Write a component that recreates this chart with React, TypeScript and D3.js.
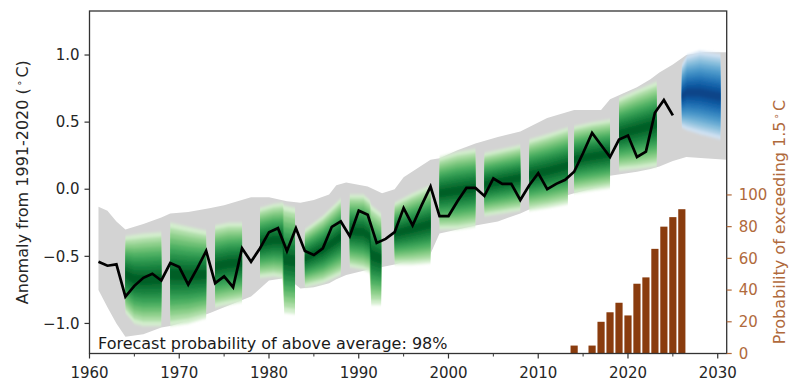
import * as d3 from "d3";

// observed annual global mean anomaly (°C, vs 1991-2020), one value per year from obsStart
const obsStart = 1961;
const obsAnomaly = [
  -0.54, -0.57, -0.56, -0.8, -0.72, -0.66, -0.63, -0.68, -0.55, -0.58,
  -0.71, -0.59, -0.46, -0.7, -0.65, -0.73, -0.44, -0.54, -0.44, -0.32,
  -0.29, -0.46, -0.29, -0.46, -0.49, -0.44, -0.28, -0.24, -0.35, -0.16,
  -0.19, -0.4, -0.37, -0.32, -0.14, -0.27, -0.12, 0.02, -0.2, -0.2,
  -0.09, 0.01, 0.01, -0.05, 0.08, 0.04, 0.04, -0.08, 0.03, 0.12,
  0.0, 0.04, 0.07, 0.13, 0.27, 0.42, 0.33, 0.24, 0.37, 0.4,
  0.24, 0.28, 0.57, 0.665, 0.55,
];

// grey envelope of the uninitialised simulations
const envYears = [
  1961, 1962, 1963, 1964, 1966, 1968, 1969, 1971, 1973.5, 1975,
  1978, 1980, 1982, 1983.5, 1985, 1986.7, 1987.5, 1988.6, 1991, 1992.6,
  1994, 1995, 1998, 1999, 2001, 2003, 2005.5, 2008, 2011, 2014,
  2017, 2018, 2021, 2022.5, 2023.5, 2025, 2026.5, 2028.5, 2031,
];
const envUpper = [
  -0.13, -0.16, -0.24, -0.3, -0.26, -0.21, -0.18, -0.17, -0.14, -0.12,
  -0.06, -0.06, -0.09, -0.1, -0.08, -0.04, 0.03, 0.05, 0.02, -0.03,
  0.0, 0.09, 0.22, 0.23, 0.29, 0.34, 0.39, 0.43, 0.53, 0.59,
  0.59, 0.67, 0.76, 0.82, 0.87, 0.93, 1.0, 1.02, 1.02,
];
const envLower = [
  -0.75, -0.88, -1.0, -1.1, -1.08, -1.03, -1.02, -0.98, -0.92, -0.88,
  -0.8, -0.68, -0.66, -0.74, -0.73, -0.7, -0.67, -0.64, -0.6, -0.58,
  -0.56, -0.54, -0.48, -0.33, -0.3, -0.27, -0.24, -0.18, -0.09, -0.03,
  0.02, 0.1, 0.13, 0.15, 0.17, 0.21, 0.24, 0.23, 0.22,
];

// retrospective forecasts (green), one entry per 5-year start
const hindcastYears = [
  [1964, 1965, 1966, 1968],
  [1969, 1971, 1973],
  [1974, 1975.5, 1977],
  [1979, 1980.5, 1981.5, 1981.7, 1982.9],
  [1984, 1986, 1988],
  [1989, 1990.5, 1991.2, 1991.4, 1992.5],
  [1994, 1996, 1998],
  [1999, 2001, 2003],
  [2004, 2006, 2008],
  [2009, 2011, 2013.3],
  [2014, 2016, 2018],
  [2019, 2021, 2023.2],
];
const hindcastTop = [
  [-0.35, -0.34, -0.33, -0.32],
  [-0.25, -0.28, -0.31],
  [-0.27, -0.25, -0.25],
  [-0.14, -0.11, -0.1, -0.12, -0.14],
  [-0.3, -0.2, -0.07],
  [-0.04, -0.04, -0.08, -0.12, -0.18],
  [-0.1, -0.03, 0.03],
  [0.24, 0.28, 0.3],
  [0.27, 0.3, 0.33],
  [0.37, 0.41, 0.46],
  [0.47, 0.5, 0.52],
  [0.68, 0.74, 0.8],
];
const hindcastBottom = [
  [-0.92, -1.0, -1.02, -1.02],
  [-1.02, -1.0, -0.96],
  [-0.88, -0.86, -0.84],
  [-0.66, -0.65, -0.66, -0.92, -0.93],
  [-0.73, -0.7, -0.64],
  [-0.58, -0.6, -0.62, -0.86, -0.86],
  [-0.56, -0.56, -0.55],
  [-0.3, -0.3, -0.28],
  [-0.2, -0.18, -0.16],
  [-0.16, -0.14, -0.11],
  [-0.03, -0.01, 0.01],
  [0.14, 0.15, 0.17],
];

// new forecast (blue)
const forecastYears = [2026, 2026.6, 2028, 2030.3];
const forecastTop = [0.93, 1.0, 1.03, 1.01];
const forecastBottom = [0.46, 0.44, 0.41, 0.37];

// probability (%) of a year exceeding 1.5 °C
const probYears = [2014, 2015, 2016, 2017, 2018, 2019, 2020, 2021, 2022, 2023, 2024, 2025, 2026];
const probExceed = [5, 0, 5, 20, 26, 32, 24, 44, 48, 66, 80, 86, 91];

const xTicks = [1960, 1970, 1980, 1990, 2000, 2010, 2020, 2030];
const xMinorTicks = [1965, 1975, 1985, 1995, 2005, 2015, 2025];
const yTicks = [-1.0, -0.5, 0.0, 0.5, 1.0];
const y2Ticks = [0, 20, 40, 60, 80, 100];

const W = 790;
const H = 384;
const plot = { left: 89.5, right: 726.7, top: 11, bottom: 353.5 };
const font = "DejaVu Sans, sans-serif";
const brown = "#b06a3c";
const axisColor = "#333";

const x = d3.scaleLinear().domain([1960, 2031]).range([plot.left, plot.right]);
const y = d3.scaleLinear().domain([-1.224, 1.328]).range([plot.bottom, plot.top]);
const y2 = d3.scaleLinear().domain([0, 216]).range([plot.bottom, plot.top]);

type Pt = { yr: number; hi: number; lo: number };

// nested bands around the middle of each block, darker towards the centre
function layers(years: number[], top: number[], bottom: number[], interp: (t: number) => string, n = 10) {
  const out: { pts: Pt[]; color: string }[] = [];
  for (let k = 0; k < n; k++) {
    const f = 1 - k / n;
    const pts = years.map((yr, i) => {
      const mid = (top[i] + bottom[i]) / 2;
      const half = (top[i] - bottom[i]) / 2;
      return { yr, hi: mid + half * f, lo: mid - half * f };
    });
    out.push({ pts, color: interp(0.2 + 0.72 * Math.pow(k / (n - 1), 0.75)) });
  }
  return out;
}

const bandArea = d3
  .area<Pt>()
  .x((d) => x(d.yr))
  .y0((d) => y(d.lo))
  .y1((d) => y(d.hi));

export default function App() {
  const fmt = d3.format(".1f");

  const envPath = d3
    .area<number>()
    .x((_, i) => x(envYears[i]))
    .y0((_, i) => y(envLower[i]))
    .y1((_, i) => y(envUpper[i]))(envUpper);

  const obsLine = d3
    .line<number>()
    .x((_, i) => x(obsStart + i))
    .y((d) => y(d))(obsAnomaly);

  const greenBlocks = hindcastYears.map((yrs, b) =>
    layers(yrs, hindcastTop[b], hindcastBottom[b], d3.interpolateGreens)
  );
  const blueBlock = layers(forecastYears, forecastTop, forecastBottom, d3.interpolateBlues);

  const barW = x(2014.8) - x(2014);

  return (
    <svg width={W} height={H} style={{ display: "block", position: "absolute", left: 0, top: 0 }} fontFamily={font}>
      <defs>
        <filter id="soft" x="-5%" y="-10%" width="110%" height="120%">
          <feGaussianBlur stdDeviation="0 1.6" />
        </filter>
        <clipPath id="plotClip">
          <rect x={plot.left} y={plot.top} width={plot.right - plot.left} height={plot.bottom - plot.top} />
        </clipPath>
      </defs>
      <rect width={W} height={H} fill="#fff" />

      <g clipPath="url(#plotClip)">
        <path d={envPath ?? ""} fill="#d3d3d3" />

        <g filter="url(#soft)">
          {greenBlocks.map((blk, b) =>
            blk.map((l, k) => <path key={`g${b}-${k}`} d={bandArea(l.pts) ?? ""} fill={l.color} />)
          )}
          {blueBlock.map((l, k) => (
            <path key={`b${k}`} d={bandArea(l.pts) ?? ""} fill={l.color} />
          ))}
        </g>

        <path d={obsLine ?? ""} fill="none" stroke="#000" strokeWidth={2.7} strokeLinejoin="miter" />

        {probYears.map((yr, i) =>
          probExceed[i] > 0 ? (
            <rect
              key={yr}
              x={x(yr) - barW / 2}
              y={y2(probExceed[i])}
              width={barW}
              height={y2(0) - y2(probExceed[i])}
              fill="#8a3c0e"
            />
          ) : null
        )}
      </g>

      <text x={98} y={349} fontSize={16} fill="#1a1a1a">
        Forecast probability of above average: 98%
      </text>

      {/* frame */}
      <rect
        x={plot.left}
        y={plot.top}
        width={plot.right - plot.left}
        height={plot.bottom - plot.top}
        fill="none"
        stroke={axisColor}
        strokeWidth={1.3}
      />

      {/* bottom axis */}
      {xTicks.map((t) => (
        <g key={t}>
          <line x1={x(t)} x2={x(t)} y1={plot.bottom} y2={plot.bottom + 5} stroke={axisColor} strokeWidth={1.2} />
          <text x={x(t)} y={378} fontSize={15} textAnchor="middle" fill="#262626">
            {t}
          </text>
        </g>
      ))}
      {xMinorTicks.map((t) => (
        <line key={t} x1={x(t)} x2={x(t)} y1={plot.bottom} y2={plot.bottom + 3} stroke={axisColor} strokeWidth={1} />
      ))}

      {/* left axis */}
      {yTicks.map((t) => (
        <g key={t}>
          <line x1={plot.left - 5} x2={plot.left} y1={y(t)} y2={y(t)} stroke={axisColor} strokeWidth={1.2} />
          <text x={plot.left - 10} y={y(t)} dy="0.35em" fontSize={15} textAnchor="end" fill="#262626">
            {fmt(t)}
          </text>
        </g>
      ))}
      <text transform={`translate(28,${(plot.top + plot.bottom) / 2}) rotate(-90)`} fontSize={16} textAnchor="middle" fill="#262626">
        Anomaly from 1991-2020 (
        <tspan dx={2} dy={-5} fontSize={10.5}>
          ∘
        </tspan>
        <tspan dx={2} dy={5}>
          C)
        </tspan>
      </text>

      {/* right axis */}
      {y2Ticks.map((t) => (
        <g key={t}>
          <line x1={plot.right} x2={plot.right + 5} y1={y2(t)} y2={y2(t)} stroke={brown} strokeWidth={1.2} />
          <text x={plot.right + 12} y={y2(t)} dy="0.35em" fontSize={15} fill={brown}>
            {t}
          </text>
        </g>
      ))}
      <text transform={`translate(785,222) rotate(-90)`} fontSize={16} textAnchor="middle" fill={brown}>
        Probability of exceeding 1.5
        <tspan dx={2} dy={-5} fontSize={10.5}>
          ∘
        </tspan>
        <tspan dx={2} dy={5}>
          C
        </tspan>
      </text>
    </svg>
  );
}
